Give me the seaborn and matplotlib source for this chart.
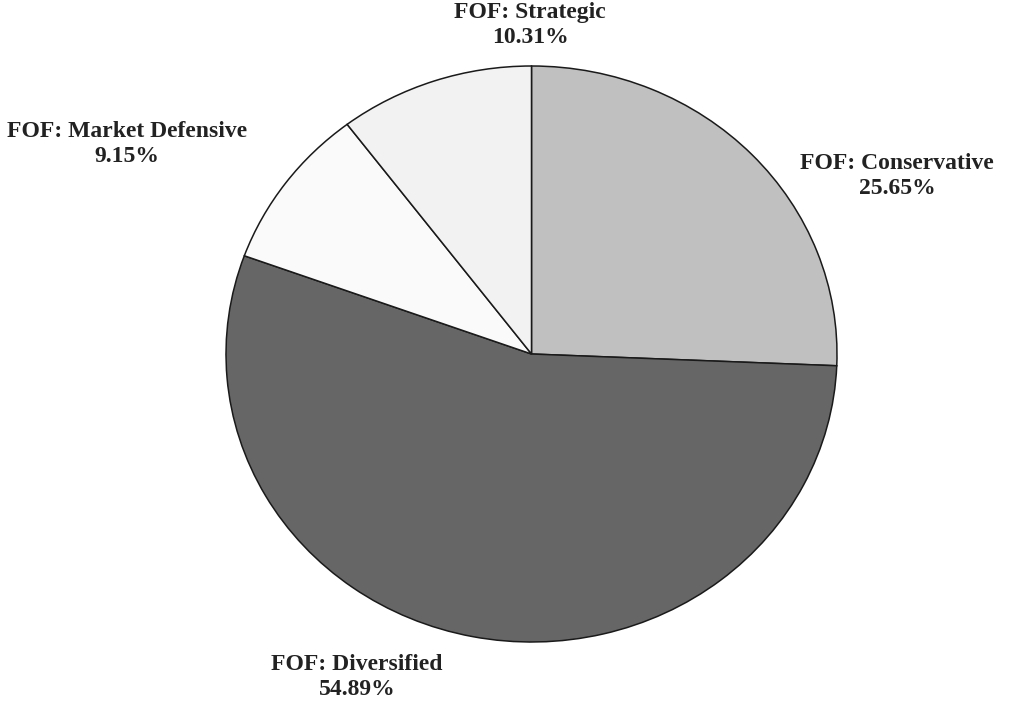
import matplotlib
matplotlib.use("Agg")
import matplotlib.pyplot as plt
import seaborn as sns

categories = ["FOF: Conservative", "FOF: Diversified", "FOF: Market Defensive", "FOF: Strategic"]
values = [25.65, 54.89, 9.15, 10.31]
colors = ["#c0c0c0", "#666666", "#fafafa", "#f2f2f2"]

sns.set_theme(style="white")
plt.rcParams['font.family'] = ['Liberation Serif', 'DejaVu Serif']

W, H = 1010, 701
fig = plt.figure(figsize=(W / 100, H / 100), dpi=100)
# pie area in pixels
left, right, top, bottom = 226, 837, 66, 642
ax = fig.add_axes([left / W, 1 - bottom / H, (right - left) / W, (bottom - top) / H])
ax.pie(values, colors=colors, startangle=90, counterclock=False,
       wedgeprops=dict(edgecolor="#1a1a1a", linewidth=1.1))
ax.set_aspect('auto')
ax.set_xlim(-1, 1)
ax.set_ylim(-1, 1)
ax.axis('off')

cx, cy = (left + right) / 2, (top + bottom) / 2
rx, ry = (right - left) / 2, (bottom - top) / 2

label_px = [(897, 176), (357, 677), (127, 144), (530, 25)]
for name, v, (px, py) in zip(categories, values, label_px):
    ax.text((px - cx) / rx, (cy - py) / ry, f"{name}\n{v:.2f}%",
            ha="center", va="center", fontsize=17, fontweight="bold",
            color="#222222", linespacing=1.3, clip_on=False)

fig.savefig("out.png", dpi=100)
